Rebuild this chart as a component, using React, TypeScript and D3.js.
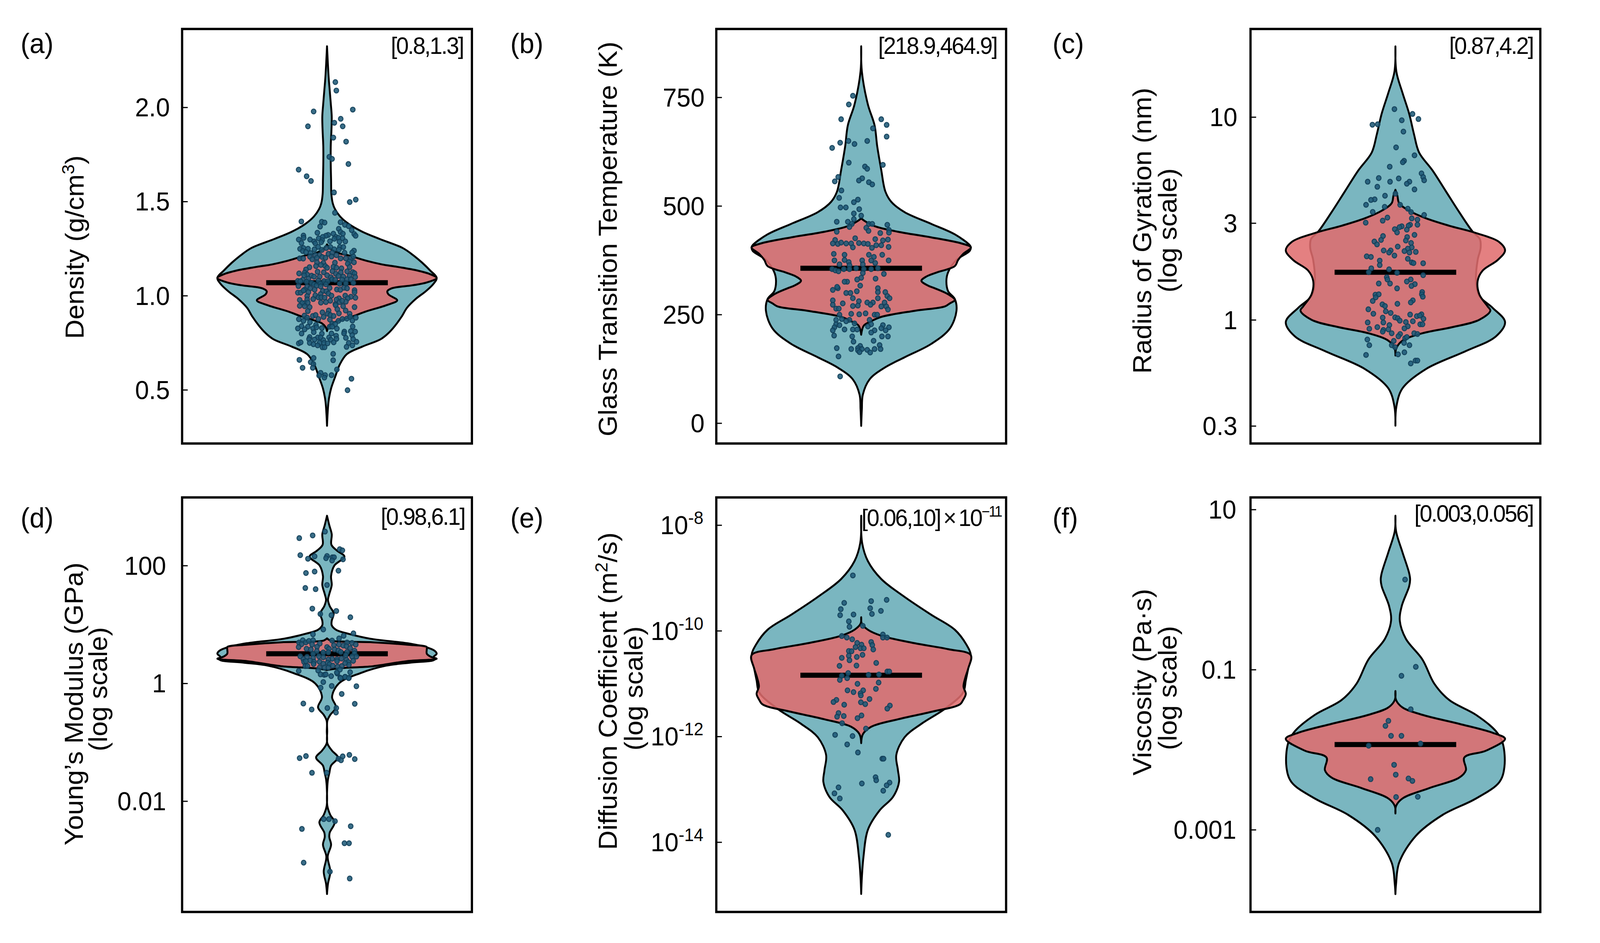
import React from "react";
import * as d3 from "d3";

type Pair = [number, number];

// ---- Violin profiles: [value, relative half width in %]; log panels hold log10(value)
const densityOuter: Pair[] = [[2.325,0],[2.254,.6],[2.159,1.5],[2.095,2.4],[2.024,3.4],[1.952,4.3],[1.873,4],[1.794,3.4],[1.698,3.4],[1.619,3.7],[1.54,4],[1.492,5.2],[1.46,7.3],[1.421,12],[1.381,20],[1.341,32],[1.302,48],[1.254,69],[1.214,79],[1.175,87],[1.135,94],[1.095,100],[1.063,97],[1.024,90],[.984,81],[.937,73],[.889,68],[.841,62],[.802,56],[.77,49],[.73,32],[.69,18],[.635,11.6],[.571,7.5],[.508,3.7],[.444,1.5],[.381,.6],[.31,0]];
const densityInner: Pair[] = [[1.273,0],[1.254,2.4],[1.23,9],[1.214,20],[1.186,36],[1.167,50],[1.154,64],[1.135,82],[1.114,94.5],[1.095,100],[1.071,91],[1.056,78],[1.04,59],[1.024,55],[1.008,56],[.976,64],[.952,55],[.916,35],[.892,24],[.871,12.5],[.854,4.6],[.833,1.2],[.813,0]];
const glassOuter: Pair[] = [[868,0],[810,.6],[734,6.1],[686,12.2],[638,14.6],[583,18.3],[534,22],[510,27.4],[486,39.6],[459,64],[435,85.4],[410,99],[405,100],[397,99],[376,86.9],[348,79.3],[328,77.7],[304,79.3],[286,85.4],[259,86.9],[218,80.8],[183,64],[152,39.6],[128,21.3],[101,7.6],[66,1.5],[32,.6],[-6,0]];
const glassInner: Pair[] = [[472,0],[466,3],[454,12.2],[441,33.5],[428,64],[414,91.5],[405,100],[390,93],[376,88.4],[362,85.4],[347,68.6],[338,59.5],[328,54.9],[317,61],[311,67],[297,79.3],[284,85.4],[276,80.8],[269,76.2],[259,48.8],[245,18.3],[235,9.1],[225,2.4],[204,0]];
const gyrationOuter: Pair[] = [[1.349,0],[1.224,.9],[1.121,6.4],[1.018,12.5],[.915,17],[.826,21.6],[.738,33.8],[.635,46],[.532,58.2],[.436,70.4],[.399,77],[.355,77.7],[.296,75],[.193,73.5],[.119,76.5],[.06,88.7],[-.01,100],[-.08,91.8],[-.153,64.3],[-.242,27.7],[-.337,6.4],[-.426,.9],[-.521,0]];
const gyrationInner: Pair[] = [[.642,0],[.613,1.8],[.576,3.4],[.539,12.5],[.502,27.7],[.465,49],[.429,73.5],[.384,94.8],[.343,100],[.296,93.3],[.244,79.6],[.193,75],[.127,76.5],[.068,84],[.046,86.6],[.001,76.5],[-.035,52],[-.065,24.7],[-.102,6.4],[-.138,.9],[-.175,0]];
const modulusOuter: Pair[] = [[2.849,0],[2.687,2.1],[2.535,4.3],[2.357,4],[2.256,9.1],[2.155,15.9],[2.003,6.7],[1.825,3.7],[1.673,4.3],[1.521,2.1],[1.42,.9],[1.318,2.4],[1.191,6.1],[1.065,4.3],[.989,4.3],[.913,8.2],[.836,21.3],[.76,39.6],[.684,73],[.619,90],[.558,98],[.507,100],[.446,97],[.406,98],[.355,76],[.304,54],[.177,30.5],[0,10.7],[-.228,4.6],[-.406,8.2],[-.532,3],[-.634,.3],[-.811,.2],[-1.014,.3],[-1.141,4.6],[-1.257,10],[-1.394,3.7],[-1.521,2.1],[-1.622,.9],[-1.774,.2],[-2.079,.3],[-2.231,3],[-2.357,7],[-2.535,2.4],[-2.611,2.1],[-2.738,3.7],[-2.94,.6],[-3.194,3],[-3.397,.9],[-3.574,0]];
const modulusInner: Pair[] = [[.766,0],[.73,3],[.71,20],[.7,42],[.659,73],[.619,91],[.583,91],[.507,91],[.456,94.5],[.421,100],[.38,73],[.294,42],[.259,11],[.228,0]];
const diffusionOuter: Pair[] = [[-7.819,0],[-8.339,.9],[-8.678,6.1],[-9.017,18.3],[-9.356,39.6],[-9.695,64],[-9.977,85.4],[-10.26,96],[-10.458,100],[-10.712,97.6],[-10.938,95.4],[-11.164,93],[-11.475,76.2],[-11.757,54.9],[-12.011,39.6],[-12.35,32],[-12.633,33.5],[-12.859,34.5],[-13.141,29],[-13.396,16.8],[-13.763,6.1],[-14.271,2.1],[-14.667,.6],[-14.978,0]];
const diffusionInner: Pair[] = [[-9.74,0],[-9.864,.6],[-9.977,6.1],[-10.09,18.3],[-10.232,48.8],[-10.345,79.3],[-10.458,100],[-10.712,97.6],[-10.881,95],[-11.051,93.3],[-11.192,95.4],[-11.305,93],[-11.39,90],[-11.531,64],[-11.672,33.5],[-11.814,9.1],[-11.955,1.5],[-12.124,0]];
const viscosityOuter: Pair[] = [[.925,0],[.731,.6],[.47,6.4],[.209,12.5],[.127,13.4],[.041,12.5],[-.202,5.8],[-.388,4],[-.612,9.5],[-.873,24.7],[-1.172,35.4],[-1.377,49],[-1.563,73.5],[-1.769,91.8],[-1.918,97.9],[-2.216,99.4],[-2.403,94.8],[-2.608,73.5],[-2.813,43],[-3.075,18.6],[-3.41,3.4],[-3.672,.6],[-3.802,0]];
const viscosityInner: Pair[] = [[-1.265,0],[-1.377,.6],[-1.47,6.4],[-1.563,24.7],[-1.675,58.2],[-1.787,88.7],[-1.862,100],[-2.011,82.6],[-2.097,62.8],[-2.254,64.3],[-2.347,58.2],[-2.478,30.8],[-2.608,6.4],[-2.701,.6],[-2.795,0]];

// ---- Jittered samples: [jitter in %, value]; log panels hold log10(value)
const densityPoints: Pair[] = [[7.6,2.135],[8.5,2.09],[23.5,1.989],[-12.2,1.979],[12.5,1.94],[6.7,1.919],[-17.4,1.9],[14.3,1.9],[5.8,1.84],[17.4,1.819],[2.1,1.738],[4.6,1.727],[19.5,1.7],[-25.9,1.67],[-18.6,1.635],[-14.6,1.61],[6.4,1.549],[26.2,1.511],[20.7,1.498],
[7.2,1.441],[-23.4,1.395],[-4.8,1.393],[-2.2,1.389],[-6.3,1.368],[12.3,1.391],[16.3,1.377],[19.7,1.37],[10.7,1.356],[22.5,1.349],[12.3,1.339],[-8.8,1.335],[14.5,1.33],[24.8,1.328],[26.1,1.319],[5.8,1.33],[-21.5,1.32],[-21.3,1.308],[1,1.323],[-1,1.319],[-3.9,1.313],[-7.6,1.305],[-25.8,1.299],[-15.5,1.299],[8.1,1.313],[10.4,1.308],[6.7,1.303],[14.2,1.306],[-11.8,1.289],[-4.4,1.296],[-5.3,1.285],[2.7,1.29],[11.3,1.288],[16.7,1.289],[-23.3,1.28],[-10.7,1.279],[-8.1,1.26],[-21.5,1.254],[-24.6,1.249],[-17.3,1.25],[-11.5,1.247],[-4.7,1.244],[-.7,1.254],[3.1,1.259],[11.7,1.259],[14.9,1.259],[6.6,1.247],[10.9,1.246],[24.6,1.24],[22.9,1.23],[-22.1,1.238],[-19.2,1.232],[-14.9,1.227],[-10.7,1.216],[-6.7,1.216],[1.3,1.223],[4.7,1.229],[8.6,1.216],[16,1.229],[-24.9,1.199],[-21.7,1.198],[-15.6,1.208],[-13.5,1.194],[-9.2,1.202],[-4.4,1.206],[-1.4,1.202],[4.1,1.209],[12.4,1.199],[17.2,1.199],[21.7,1.199],[24,1.209],[20.6,1.183],[24.6,1.178],[-9.2,1.178],[-3.3,1.175],[7.2,1.176],[18.9,1.171],[-10.1,1.158],[-1.6,1.158],[-5.6,1.164],[5.8,1.154],[8.6,1.149],[.1,1.149],[-16,1.152],[13.2,1.146],[20.6,1.153],[-19.2,1.14],[-25.5,1.119],[-20.4,1.123],[-8.6,1.128],[-3,1.125],[4.9,1.131],[12.6,1.125],[23.4,1.126],[18.3,1.13],[-18.1,1.113],[-14.1,1.107],[.1,1.109],[8.1,1.117],[25.1,1.12],[-20.9,1.109],[-11.8,1.102],[3.5,1.099],[-6.7,1.102],[10.4,1.106],[14.9,1.102],[20.6,1.107],[25.7,1.1],[-26.6,1.079],[-22.1,1.085],[-17,1.092],[-7.9,1.081],[-2.7,1.078],[.7,1.077],[4.7,1.088],[7.5,1.085],[13.8,1.086],[18.3,1.088],[-24.4,1.078],[-14.1,1.069],[-18.7,1.075],[-11.8,1.061],[-6.1,1.064],[21.7,1.088],[24,1.069],[17.2,1.066],[-26.1,1.052],[11.5,1.064],[-1,1.061],[-9.6,1.054],[-18.1,1.049],[-15.3,1.04],[-20.4,1.033],[2.4,1.042],[-5.8,1.05],[9,1.034],[12.1,1.032],[15.5,1.043],[18.3,1.04],[-11.3,1.033],[25.1,1.03],[-26.6,1.017],[-24,1.017],[-21.5,1.028],[-17,1.019],[-3.9,1.026],[-.7,1.024],[25.1,1.019],[1.3,1.012],[-10.7,1.003],[-5.8,1.009],[4.1,1.001],[-18.1,.999],[16.6,1.001],[21.7,.995],[25.9,.99],[-24.9,.978],[-18.1,.981],[-12.6,.983],[-7.9,.992],[-5.3,.992],[-2.2,.99],[10.9,.987],[8.6,.98],[18.9,.987],[3,.974],[-5.6,.964],[-20.6,.961],[-22.6,.962],[-17.5,.964],[-1,.967],[7.6,.956],[11.5,.967],[17.2,.969],[13.8,.974],
[-24.9,.947],[-20.4,.945],[-15.8,.94],[-17.5,.919],[-4.2,.912],[1.5,.922],[7.9,.95],[9.4,.929],[10.9,.907],[14.7,.945],[17,.922],[20.6,.905],[25.1,.94],[-20.6,.895],[-18.1,.884],[-13,.893],[-10.4,.898],[-7.9,.877],[-3.1,.888],[.7,.905],[3,.898],[6,.893],[2.6,.874],[-25.7,.876],[-21.5,.867],[-15.6,.86],[10.4,.867],[14,.877],[18.1,.879],[21.2,.888],[23.1,.869],[26.3,.884],[4.7,.853],[7.5,.85],[-10.1,.846],[-17.5,.836],[-23.2,.839],[-26.6,.827],[-20.4,.822],[-12.7,.827],[-9.6,.833],[-4.7,.829],[2.4,.836],[4.7,.836],[9,.826],[23.4,.837],[-12.1,.807],[-23.2,.8],[15.8,.81],[21.7,.812],[25.7,.81],[-4.7,.799],[4.1,.8],[15.5,.801],[-15.8,.781],[-8.4,.779],[8.3,.788],[22.9,.791],[1.8,.779],[-5.8,.779],[17.2,.777],[-16.4,.77],[-11.3,.768],[-3.3,.765],[8.6,.772],[23.8,.77],[3.5,.767],[-15.8,.75],[-12.4,.743],[-6.9,.75],[-2.7,.75],[.5,.748],[6.1,.753],[19.8,.75],[26.9,.756],[-25.8,.748],[-24,.753],[-8.6,.737],[-4.2,.727],[-2.2,.727],[17.8,.729],[23.1,.737],[5.6,.692],[-12.2,.67],[-25.2,.66],[5.6,.658],[-14.9,.648],[-12.4,.638],[-22.3,.618],[-13,.618],[9,.609],[-5.8,.591],[-7.2,.577],[-1.7,.579],[-2.4,.566],[4.1,.579],[22.3,.56],[18.7,.499]];
const glassPoints: Pair[] = [[-7.6,754],[-11.3,734],[-18.3,700],[18.3,700],[23.2,687],[10.7,679],[23.2,660],[-11.6,650],[-19.2,646],[-6.1,643],[5.5,650],[-26.5,634],[19.8,595],[-11.3,600],[3.4,591],[5.5,586],[-21,567],[-24.1,557],[.9,564],[-2.1,559],[7,555],[10.1,550],[-18,536],[-20.1,519],[-3,515],[-6.7,509],[-18.9,497],[-14,497],[-1.8,493],[-6.7,483],[0,478],[-6.7,470],[-22.3,464],[-12.2,464],[-8.5,459],[7,459],[10.1,459],[23.8,457],[-10.7,452],[4.6,450],[17.4,438],[25.3,445],[25.3,439],[6.7,443],[-22.3,441],[24.4,423],[-5.5,426],[12.8,424],[-23.8,422],[-25.9,414],[-21.3,413],[-18.3,416],[-13.7,414],[-9.1,414],[-2.1,415],[2.4,414],[6.1,413],[19.8,421],[18.3,410],[13.7,410],[9.8,404],[25,406],[-7.6,405],[-25,390],[-15.2,388],[7,388],[19.2,388],[11.6,383],[25,375],[-24.4,375],[-15.2,376],[-11.3,371],[.9,375],[9.1,375],[12.8,369],[1.5,366],[-19.8,366],[-10.7,364],[-26.5,355],[-23.5,352],[-15.9,355],[-10.7,355],[-4.6,357],[2.4,355],[9.1,355],[15.2,357],[-20.7,350],[1.5,346],[20.7,344],[0,335],[-3.7,331],[13.1,333],[-12.8,326],[-15.2,326],[-.9,317],[15.2,311],[-21.3,311],[-25.9,307],[15.2,302],[-22,314],[22,302],[-13.7,300],[-4,304],[-9.8,300],[-7.6,288],[23.8,293],[25.9,288],[15.2,288],[-25.9,283],[-2.1,281],[5.5,278],[10.7,278],[21.3,278],[-16.8,276],[8.5,273],[-25.9,273],[-3,271],[-7.6,270],[18.3,269],[22.9,269],[-22.9,264],[24.4,262],[-20.4,264],[-9.1,252],[-1.8,251],[4,253],[12.2,250],[14.6,250],[-19.8,250],[-17.7,240],[-22.9,238],[-10.7,238],[-13.7,235],[7.6,238],[-6.1,230],[9.1,228],[-22.9,228],[-19.8,226],[19.8,226],[25.3,221],[6.1,223],[18.3,219],[-24.4,221],[-25.9,214],[-15.2,216],[-7.6,216],[-3.7,216],[12.2,214],[9.1,209],[22.3,214],[18.9,200],[24.4,200],[-24.7,202],[-8.2,200],[-7,188],[11.3,190],[16.8,180],[-.9,178],[-22.3,173],[-9.1,171],[-3,173],[.6,171],[5.5,169],[12.2,171],[17.7,171],[-3,168],[-1.5,164],[8.2,163],[-20.7,154],[-19.2,108]];
const gyrationPoints: Pair[] = [[-.9,1.04],[15.6,1.016],[21,.991],[-21,.963],[-16.2,.965],[5.8,.985],[7.3,.929],[.6,.851],[17.4,.812],[7.9,.785],[6.7,.778],[-5.2,.756],[23.8,.723],[25.3,.705],[26.2,.689],[-15.2,.7],[3,.698],[-25.3,.682],[-4.9,.682],[12.8,.682],[10.4,.672],[-16.5,.657],[17.4,.644],[-9.5,.613],[-18.9,.595],[-22.3,.592],[-26.8,.568],[0,.623],[4.3,.568],[-9.8,.558],[11.3,.549],[14.3,.532],[-20.7,.533],[26.2,.518],[-7.3,.505],[14.9,.501],[20.1,.495],[-11.6,.49],[-27.1,.48],[13.4,.47],[20.1,.47],[5.8,.462],[3.7,.458],[11.9,.465],[-.6,.448],[10.4,.446],[1.5,.432],[17.4,.42],[10.7,.409],[-11.3,.414],[9.5,.392],[-19.2,.387],[-13.1,.395],[14.3,.38],[-16.8,.373],[2.1,.362],[14.9,.358],[11.3,.352],[8.2,.34],[-10.7,.343],[-4.3,.343],[-5.8,.333],[12.8,.333],[18.6,.336],[-.9,.318],[-26.2,.314],[-22.3,.311],[11.3,.302],[14.9,.284],[-14.3,.293],[16.5,.281],[25.3,.28],[-14.3,.271],[-22,.255],[-24.4,.236],[-5.8,.25],[1.5,.233],[25.3,.221],[-7.9,.211],[-7.3,.2],[14,.2],[10.4,.19],[17.7,.177],[-15.2,.18],[-4.9,.18],[14.6,.168],[1.5,.156],[24.4,.138],[24.1,.127],[-18.3,.125],[-15.2,.127],[25,.115],[-18,.112],[15.9,.097],[-20.7,.094],[14,.087],[1.8,.08],[-11.9,.077],[-9.5,.069],[-24.7,.053],[-8.8,.043],[-4.3,.035],[-20.1,.031],[23.8,.028],[19.5,.019],[13.4,.027],[22.3,.022],[-.3,.013],[2.1,.009],[-11.6,.012],[25.6,.006],[15.9,-.006],[-11,-.012],[4,-.003],[9.5,-.01],[-25.3,-.012],[-5.5,-.025],[11.3,-.031],[22.6,-.021],[24.7,-.021],[-16.5,-.035],[-23.8,-.043],[8.2,-.041],[-6.4,-.046],[-11,-.049],[-11.6,-.057],[-3.4,-.065],[17.1,-.065],[20.1,-.069],[4.3,-.069],[2.7,-.08],[8.8,-.09],[-1.5,-.103],[-25.6,-.096],[10.4,-.084],[12.8,-.124],[-23.8,-.124],[-3.4,-.124],[7.9,-.113],[-.3,-.134],[8.2,-.159],[2.4,-.169],[-26.8,-.172],[14,-.214],[18.3,-.2],[20.1,-.2]];
const modulusPoints: Pair[] = [[-1.8,2.58],[-13.1,2.515],[-25.3,2.469],[11.6,2.281],[14,2.261],[-24.4,2.18],[-11.3,2.16],[0,2.165],[-.9,2.129],[-17.4,2.119],[4.9,2.144],[6.4,2.144],[4.6,2.089],[14.6,2.109],[-19.2,1.876],[-11.3,1.901],[10.4,1.916],[0,1.673],[-19.8,1.622],[-10.4,1.602],[-13.4,1.272],[8.5,1.232],[-6.1,1.181],[4,1.161],[21.3,1.125],[-3.4,.918],[24.1,.852],[-12.8,.836],[15.2,.811],[11,.766],
[-25.6,.696],[-22.1,.734],[-23.3,.667],[-25.9,.619],[-19.3,.7],[-16.5,.723],[-12.7,.734],[-6.6,.678],[-18.7,.59],[-13.6,.663],[-14.7,.579],[-9.1,.623],[-9.3,.552],[-12.7,.502],[0,.619],[4.6,.729],[1.8,.59],[6.3,.65],[10.9,.663],[18.3,.696],[22.8,.689],[26.2,.661],[14.8,.645],[17.7,.634],[25.1,.557],[21.1,.601],[6.9,.579],[10.3,.561],[-3.4,.528],[1.2,.53],[12.6,.535],[18.3,.535],[25.1,.513],[-24.4,.462],[-18.2,.453],[-12.7,.435],[-7.4,.462],[-3.4,.446],[-21.6,.413],[4.6,.42],[1.2,.407],[9.1,.413],[13.1,.424],[17.1,.48],[26.8,.458],[22.8,.458],[-21,.369],[-15.3,.391],[-11.9,.369],[-19.3,.38],[-6.8,.369],[17.7,.402],[23.9,.385],[9.1,.38],[19.4,.363],[-19.8,.296],[-17.9,.298],[-12.2,.332],[-3.4,.336],[.6,.354],[2.3,.325],[5.2,.303],[9.7,.285],[13.5,.296],[20,.318],[16.5,.347],[-6.8,.27],[-2.2,.27],[1.2,.27],[-8.1,.221],[11.8,.237],[-25.8,.214],[-5.9,.155],[-2.5,.148],[-1.1,.155],[9.4,.17],[21.1,.192],[3.8,.126],[8.9,.186],[12,.1],[16.5,.115],[20,.097],
[12.2,.091],[16.5,.112],[19.8,.091],[-3.4,.025],[4.3,-.041],[-5.8,-.071],[26.8,-.046],[13.4,-.177],[-21.6,-.34],[25.3,-.345],[.3,-.416],[8.5,-.416],[-14,-.441],[8.2,-.492],[-25,-1.267],[-19.2,-1.232],[20.4,-1.212],[14.3,-1.237],[10.4,-1.278],[12.8,-1.303],[25.3,-1.283],[-13.7,-1.516],[-.3,-1.516],[-3,-2.302],[1.8,-2.302],[7.3,-2.337],[21.6,-2.423],[-22.9,-2.469],[15.9,-2.712],[20.1,-2.712],[-21.3,-3.042],[2.7,-3.194],[20.7,-3.311]];
const diffusionPoints: Pair[] = [[-7.6,-8.949],[23.2,-9.412],[9.1,-9.435],[-15.5,-9.469],[8.2,-9.571],[-18.6,-9.588],[18,-9.621],[-19.2,-9.701],[-7,-9.689],[9.8,-9.678],[-11.3,-9.819],[-10.7,-9.921],[1.5,-9.904],[19.8,-10.068],[19.8,-10.124],[23.5,-10.124],[-17.7,-10.096],[-13.1,-10.124],[-8.2,-10.158],[9.1,-10.209],[10.1,-10.266],[-3.7,-10.226],[.3,-10.26],[11,-10.35],[-5.2,-10.305],[-.6,-10.328],[2.4,-10.328],[-11.3,-10.379],[-8.8,-10.384],[-11.3,-10.469],[-17.7,-10.509],[-4,-10.492],[1.2,-10.452],[-10.7,-10.554],[13.7,-10.605],[-19.8,-10.661],[-4.3,-10.655],[23.8,-10.768],[25.6,-10.768],[-11.9,-10.797],[-17.7,-10.847],[6.7,-10.831],[16.2,-10.825],[-12.8,-10.893],[-19.5,-10.927],[15.9,-10.977],[-3.4,-11],[13.4,-11.096],[-12.5,-11.124],[-7,-11.158],[1.8,-11.124],[-.6,-11.181],[-.3,-11.22],[7.6,-11.288],[-22.6,-11.305],[-25.3,-11.345],[-.3,-11.35],[3.7,-11.384],[-15.5,-11.396],[26.2,-11.412],[23.8,-11.469],[-20.7,-11.554],[-22,-11.622],[-15.9,-11.61],[.3,-11.599],[-3.4,-11.65],[-17.4,-11.746],[4.3,-11.848],[-23.8,-11.966],[-7.9,-11.989],[-12.8,-12.147],[-3,-12.3],[19.2,-12.418],[20.4,-12.418],[13.1,-12.769],[13.7,-12.825],[.6,-12.887],[25.9,-12.87],[23.2,-12.921],[-20.7,-12.961],[20.1,-13.023],[-24.4,-13.074],[-19.5,-13.17],[24.7,-13.859]];
const viscosityPoints: Pair[] = [[8.8,.127],[18.6,-.963],[5.5,-1.075],[14,-1.493],[-6.4,-1.638],[-9.1,-1.701],[-4,-1.825],[5.5,-1.825],[22.9,-1.922],[-24.4,-1.948],[-1.2,-2.187],[.3,-2.31],[-22.6,-2.366],[11.9,-2.358],[15.5,-2.388],[.6,-2.59],[20.4,-2.586],[-16.2,-3]];

const panelLetters = ["(a)", "(b)", "(c)", "(d)", "(e)", "(f)"];
const densityTicks = [2.0, 1.5, 1.0, 0.5];
const glassTicks = [750, 500, 250, 0];
const gyrationTicks = [10, 3, 1, 0.3];
const modulusTicks = [100, 1, 0.01];
const diffusionTicks = [1e-8, 1e-10, 1e-12, 1e-14];
const viscosityTicks = [10, 0.1, 0.001];
const meanValues = [1.07, 357, 1.72, 3.2, 1.45e-11, 0.01164];
const intervalLabels = ["[0.8,1.3]", "[218.9,464.9]", "[0.87,4.2]", "[0.98,6.1]", "[0.06,10]", "[0.003,0.056]"];

const FONT = "'Liberation Sans', Arial, sans-serif";
const TEAL = "#7AB6C0";
const RED = "rgb(224,108,110)";

interface Cfg {
  left: number; top: number; log: boolean; domain: [number, number];
  outer: Pair[]; inner: Pair[]; points: Pair[]; ticks: number[]; tickFmt: (v: number) => React.ReactNode;
  tickRight: number; title: React.ReactNode; titleX: number; titleY: number;
  sub?: { x: number; y: number }; letterX: number; letterY: number;
  noteRight: number; noteY: number; noteExtra?: boolean;
}
const W = 774.5, H = 1061.6, ROW1 = 74.2, ROW2 = 1273.9;
const sup = (s: string, after: string) => (<>
  <tspan dy={-25} fontSize={46}>{s}</tspan><tspan dy={25}>{after}</tspan></>);

const panels: Cfg[] = [
  { left: 486.7, top: ROW1, log: false, domain: [0.216, 2.417], outer: densityOuter, inner: densityInner, points: densityPoints, ticks: densityTicks, tickFmt: v => v.toFixed(1), tickRight: 454,
    title: <>Density (g/cm{sup("3", ")")}</>, titleX: 223, titleY: 633, letterX: 55, letterY: 136, noteRight: 1238, noteY: 138 },
  { left: 1914.3, top: ROW1, log: false, domain: [-46.5, 907.8], outer: glassOuter, inner: glassInner, points: glassPoints, ticks: glassTicks, tickFmt: v => String(v), tickRight: 1883,
    title: "Glass Transition Temperature (K)", titleX: 1648, titleY: 612, letterX: 1364, letterY: 136, noteRight: 2664, noteY: 138 },
  { left: 3342, top: ROW1, log: true, domain: [-0.6087, 1.435], outer: gyrationOuter, inner: gyrationInner, points: gyrationPoints, ticks: gyrationTicks, tickFmt: v => String(v), tickRight: 3307,
    title: "Radius of Gyration (nm)", titleX: 3077, titleY: 591, sub: { x: 3144, y: 590 }, letterX: 2813, letterY: 136, noteRight: 4097, noteY: 138 },
  { left: 486.7, top: ROW2, log: true, domain: [-3.879, 3.16], outer: modulusOuter, inner: modulusInner, points: modulusPoints, ticks: modulusTicks, tickFmt: v => String(v), tickRight: 444,
    title: "Young\u2019s Modulus (GPa)", titleX: 221, titleY: 1803, sub: { x: 286, y: 1765 }, letterX: 55, letterY: 1351, noteRight: 1242, noteY: 1344 },
  { left: 1914.3, top: ROW2, log: true, domain: [-15.318, -7.473], outer: diffusionOuter, inner: diffusionInner, points: diffusionPoints, ticks: diffusionTicks,
    tickFmt: v => <>10<tspan dy={-26} fontSize={46}>{String(Math.round(Math.log10(v)))}</tspan></>, tickRight: 1880,
    title: <>Diffusion Coefficient (m{sup("2", "/s)")}</>, titleX: 1648, titleY: 1770, sub: { x: 1717, y: 1763 }, letterX: 1364, letterY: 1351, noteRight: 2676, noteY: 1347, noteExtra: true },
  { left: 3342, top: ROW2, log: true, domain: [-4.025, 1.153], outer: viscosityOuter, inner: viscosityInner, points: viscosityPoints, ticks: viscosityTicks, tickFmt: v => String(v), tickRight: 3304,
    title: "Viscosity (Pa\u00b7s)", titleX: 3077, titleY: 1747, sub: { x: 3144, y: 1762 }, letterX: 2813, letterY: 1351, noteRight: 4097, noteY: 1336 },
];

function Panel({ cfg, i }: { cfg: Cfg; i: number }) {
  const { left, top } = cfg;
  const cx = left + W / 2;
  const yScale = cfg.log
    ? d3.scaleLog().domain([10 ** cfg.domain[0], 10 ** cfg.domain[1]]).range([top + H, top])
    : d3.scaleLinear().domain(cfg.domain).range([top + H, top]);
  const val = (v: number) => (cfg.log ? 10 ** v : v);
  const widthScale = d3.scaleLinear().domain([0, 100]).range([0, 293]);
  const violin = d3.area<Pair>()
    .curve(d3.curveCatmullRom.alpha(0.5))
    .y(d => yScale(val(d[0])) as number)
    .x0(d => cx - widthScale(d[1]))
    .x1(d => cx + widthScale(d[1]));
  const meanY = yScale(meanValues[i]) as number;
  return (
    <g fontFamily={FONT} fill="#000">
      <path d={violin(cfg.outer) as string} fill={TEAL} stroke="#000" strokeWidth={5} strokeLinejoin="round" />
      <path d={violin(cfg.inner) as string} fill={RED} fillOpacity={0.865} stroke="#000" strokeWidth={5} strokeLinejoin="round" />
      <line x1={cx - 162.5} x2={cx + 162.5} y1={meanY} y2={meanY} stroke="#000" strokeWidth={13} />
      {cfg.points.map((p, k) => (
        <circle key={k} cx={cx + widthScale(p[0])} cy={yScale(val(p[1])) as number} r={6.2}
          fill="#1F5A78" fillOpacity={0.88} stroke="#123F59" strokeOpacity={0.9} strokeWidth={2.6} />
      ))}
      <rect x={left} y={top} width={W} height={H} fill="none" stroke="#000" strokeWidth={6} />
      {cfg.ticks.map(t => {
        const y = yScale(t) as number;
        return (
          <g key={t}>
            <line x1={left} x2={left + 15} y1={y} y2={y} stroke="#000" strokeWidth={3} />
            <text x={cfg.tickRight} y={y + 23} textAnchor="end" fontSize={67}>{cfg.tickFmt(t)}</text>
          </g>
        );
      })}
      <text transform={`translate(${cfg.titleX},${cfg.titleY}) rotate(-90)`} textAnchor="middle" fontSize={69}>{cfg.title}</text>
      {cfg.sub && (
        <text transform={`translate(${cfg.sub.x},${cfg.sub.y}) rotate(-90)`} textAnchor="middle" fontSize={69}>(log scale)</text>
      )}
      <text x={cfg.letterX} y={cfg.letterY} fontSize={72}>{panelLetters[i]}</text>
      <text x={cfg.noteRight} y={cfg.noteY} textAnchor="end" fontSize={61} letterSpacing={-3}>
        {intervalLabels[i]}
        {cfg.noteExtra && <><tspan dx={8}>{"\u00d7"}</tspan><tspan dx={8}>10</tspan><tspan dy={-24} fontSize={38}>{"\u221211"}</tspan></>}
      </text>
    </g>
  );
}

export default function App() {
  return (
    <>
      <style>{"html,body{margin:0;padding:0;background:#fff;overflow:hidden}"}</style>
      <svg viewBox="0 0 4276 2415" preserveAspectRatio="none" style={{ display: "block", width: "100vw", height: "100vh" }}>
        {panels.map((p, i) => <Panel key={i} cfg={p} i={i} />)}
      </svg>
    </>
  );
}
